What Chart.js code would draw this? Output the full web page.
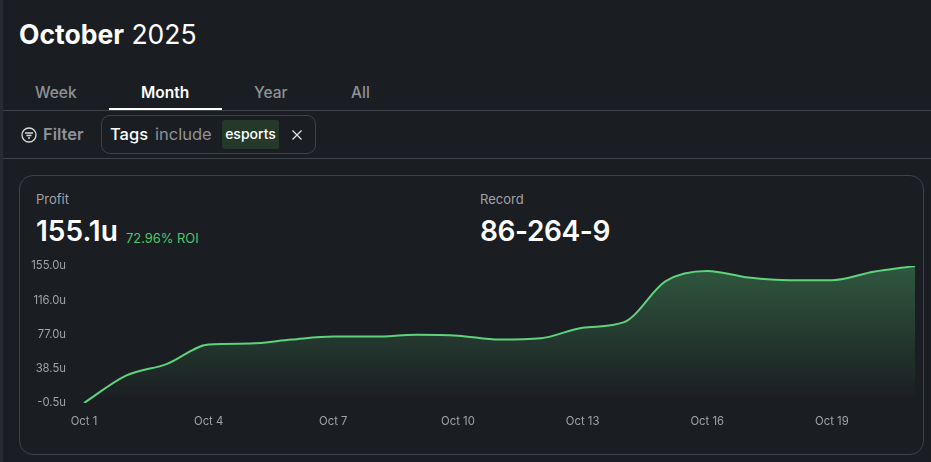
<!DOCTYPE html>
<html>
<head>
<meta charset="utf-8">
<script src="https://cdn.jsdelivr.net/npm/chart.js@4"></script>
<style>
html, body { margin: 0; padding: 0; }
body { width: 931px; height: 462px; overflow: hidden; background: #1a1d22; font-family: Inter, "Noto Sans", sans-serif; color: #fff; position: relative; }
div, span { position: absolute; white-space: nowrap; }
#strip { left: 0; top: 0; width: 3px; height: 462px; background: #272b31; }
#title { left: 19px; top: 17px; font-size: 26.5px; line-height: 34px; }
#title b { font-weight: 700; }
.tab { top: 83px; font-size: 15.5px; line-height: 20px; color: #8f9296; font-weight: 500; }
.rule { left: 3px; width: 928px; height: 1px; background: #3e4249; }
#active { left: 109px; top: 108px; width: 113px; height: 2px; background: #fff; }
#filter { left: 43px; top: 124px; font-size: 16.5px; line-height: 20px; font-weight: 600; color: #8f9296; }
#filterIcon { left: 21px; top: 127px; }
#pill { left: 101px; top: 115px; width: 213px; height: 37px; border: 1px solid #3e4249; border-radius: 9px; }
#tags { left: 110px; top: 124px; font-size: 16.5px; line-height: 20px; font-weight: 500; }
#include { left: 155px; top: 124px; font-size: 16.5px; line-height: 20px; color: #8f9296; }
#badge { left: 222px; top: 120px; width: 57px; height: 29px; background: #25392b; border-radius: 3px; font-size: 14px; line-height: 28px; text-align: center; font-weight: 500; }
#close { left: 291px; top: 129px; }
#card { left: 19px; top: 175px; width: 903px; height: 278px; border: 1px solid #3e4249; border-radius: 14px; }
.label { top: 191px; font-size: 13px; line-height: 16px; color: #a0a3a7; }
.value { top: 214px; font-size: 28px; line-height: 34px; font-weight: 600; }
#roi { left: 126px; top: 231px; font-size: 12.9px; line-height: 16px; color: #4fc86a; }
#wrap { left: 20px; top: 241px; width: 902px; height: 194px; }
</style>
</head>
<body>
<div id="strip"></div>
<div id="title"><b>October</b> 2025</div>
<div class="tab" style="left:35px">Week</div>
<div class="tab" style="left:141px;color:#fff;font-weight:600">Month</div>
<div class="tab" style="left:254px">Year</div>
<div class="tab" style="left:351px">All</div>
<div class="rule" style="top:110px"></div>
<div id="active"></div>
<svg id="filterIcon" style="position:absolute" width="16" height="16" viewBox="0 0 16 16" fill="none" stroke="#d8d9db" stroke-width="1.3"><circle cx="8" cy="8" r="7"/><path d="M4 6h8M5.5 8.5h5M7 11h2"/></svg>
<div id="filter">Filter</div>
<div id="pill"></div>
<div id="tags">Tags</div>
<div id="include">include</div>
<div id="badge">esports</div>
<svg id="close" style="position:absolute" width="12" height="12" viewBox="0 0 12 12" stroke="#e6e6e6" stroke-width="1.2"><path d="M1.5 1.5l9 9M10.5 1.5l-9 9"/></svg>
<div class="rule" style="top:158px"></div>
<div id="card"></div>
<div class="label" style="left:36px">Profit</div>
<div class="value" style="left:36px">155.1u</div>
<div id="roi">72.96% ROI</div>
<div class="label" style="left:480px">Record</div>
<div class="value" style="left:480px;letter-spacing:-0.4px">86-264-9</div>
<div id="wrap"><canvas id="chart" width="902" height="194"></canvas></div>
<script>
const days = ['Oct 1','Oct 2','Oct 3','Oct 4','Oct 5','Oct 6','Oct 7','Oct 8','Oct 9','Oct 10','Oct 11','Oct 12','Oct 13','Oct 14','Oct 15','Oct 16','Oct 17','Oct 18','Oct 19','Oct 20','Oct 21'];
const profit = [-0.5, 30.4, 44, 66, 67, 71.5, 75, 75, 77, 76, 71.5, 73, 85, 91.3, 138, 149.5, 142, 139, 139, 148.5, 155.1];
const tickValues = [-0.5, 38.4, 77.3, 116.2, 155.1];
const tickLabels = ['-0.5u', '38.5u', '77.0u', '116.0u', '155.0u'];

const fillGradient = (context) => {
    const area = context.chart.chartArea;
    if (!area) return 'transparent';
    const g = context.chart.ctx.createLinearGradient(0, area.top, 0, area.bottom);
    g.addColorStop(0, 'rgba(95,211,124,0.32)');
    g.addColorStop(1, 'rgba(95,211,124,0)');
    return g;
};

new Chart(document.getElementById('chart'), {
    type: 'line',
    data: {
        labels: days,
        datasets: [{
            data: profit,
            borderColor: '#5fd37c',
            borderWidth: 2,
            pointRadius: 0,
            cubicInterpolationMode: 'monotone',
            fill: 'start',
            backgroundColor: fillGradient
        }]
    },
    options: {
        responsive: false,
        animation: false,
        layout: { padding: { top: 25, right: 7, bottom: 0, left: 0 } },
        plugins: { legend: { display: false }, tooltip: { enabled: false } },
        scales: {
            x: {
                grid: { display: false },
                border: { display: false },
                afterFit: (scale) => { scale.height = 32; },
                ticks: {
                    autoSkip: false,
                    maxRotation: 0,
                    padding: 4,
                    color: '#a0a3a7',
                    font: { family: 'Inter', size: 11.3 },
                    callback: function (value, index) { return index % 3 === 0 ? days[index] : null; }
                }
            },
            y: {
                min: -0.5,
                max: 155.1,
                grid: { display: false },
                border: { display: false },
                afterFit: (scale) => { scale.width = 64; },
                afterBuildTicks: (scale) => { scale.ticks = tickValues.map((v) => ({ value: v })); },
                ticks: {
                    padding: 10,
                    color: '#a0a3a7',
                    font: { family: 'Inter', size: 11.3 },
                    callback: function (value, index) { return tickLabels[index]; }
                }
            }
        }
    }
});
</script>
</body>
</html>
